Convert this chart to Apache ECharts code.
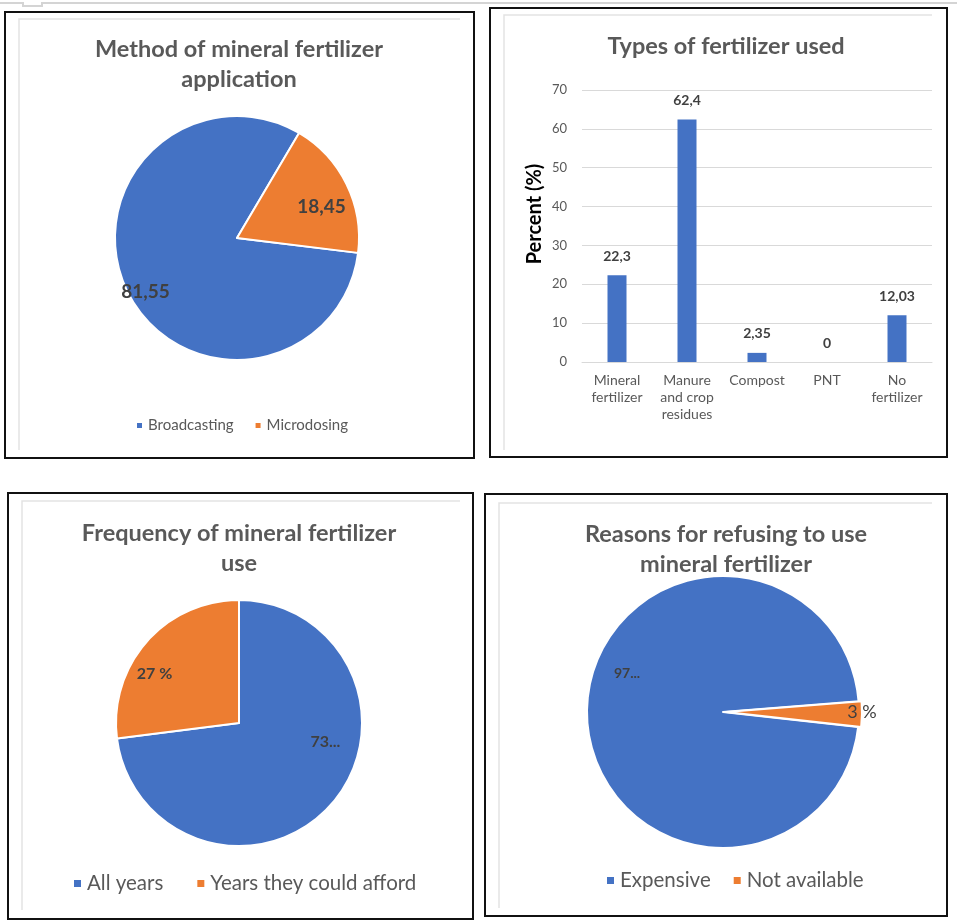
<!DOCTYPE html>
<html>
<head>
<meta charset="utf-8">
<title>Mineral fertilizer survey</title>
<script src="https://cdn.jsdelivr.net/npm/echarts@6/dist/echarts.min.js"></script>
<style>
    html, body { margin: 0; padding: 0; background: #fff; }
    #main { width: 957px; height: 924px; }
</style>
</head>
<body>
<div id="main"></div>
<script>
// method of mineral fertilizer application
var methodNames = ['Broadcasting', 'Microdosing'];
var methodValues = [81.55, 18.45];
var methodLabels = ['81,55', '18,45'];

// types of fertilizer used
var typeCategories = ['Mineral\nfertilizer', 'Manure\nand crop\nresidues', 'Compost', 'PNT', 'No\nfertilizer'];
var typeValues = [22.3, 62.4, 2.35, 0, 12.03];
var percentMin = 0;
var percentMax = 70;
var percentStep = 10;

// frequency of mineral fertilizer use
var freqNames = ['All years', 'Years they could afford'];
var freqValues = [73, 27];
var freqLabels = ['73...', '27 %'];

// reasons for refusing
var reasonNames = ['Expensive', 'Not available'];
var reasonValues = [97, 3];
var reasonLabels = ['97...', '3 %'];

var FONT = 'Lato, "Open Sans", sans-serif';
var colors = ['#4472C4', '#ED7D31'];
var titleColor = '#595959';
var labelColor = '#404040';

function comma(v) {
    return String(v).replace('.', ',');
}

// pie with inside labels, nudged a little like Excel's "best fit"
function pieSeries(names, values, labels, opt) {
    return {
        type: 'pie',
        center: opt.center,
        radius: opt.radius,
        startAngle: opt.startAngle,
        clockwise: true,
        silent: true,
        selectedMode: opt.explode != null ? 'single' : false,
        selectedOffset: opt.offset || 0,
        itemStyle: { borderColor: '#fff', borderWidth: 2 },
        label: {
            show: true,
            position: 'inside',
            color: labelColor,
            fontFamily: FONT,
            fontWeight: 'bold',
            fontSize: opt.fontSize,
            formatter: function (p) { return labels[p.dataIndex]; }
        },
        labelLine: { show: false },
        labelLayout: function (p) {
            var o = opt.nudge[p.dataIndex];
            return { dx: o[0], dy: o[1] };
        },
        emphasis: { disabled: true },
        data: names.map(function (n, i) {
            var item = { name: n, value: values[i], itemStyle: { color: colors[i] } };
            if (opt.explode === i) item.selected = true;
            if (opt.labelStyles && opt.labelStyles[i]) item.label = opt.labelStyles[i];
            return item;
        })
    };
}

function legendOf(names, left, top, size, fontSize, gap) {
    return {
        data: names,
        left: left,
        top: top,
        orient: 'horizontal',
        icon: 'rect',
        itemWidth: size,
        itemHeight: size,
        itemGap: gap,
        padding: 0,
        selectedMode: false,
        textStyle: { fontFamily: FONT, fontSize: fontSize, color: titleColor }
    };
}

function titleOf(text, x, y) {
    return {
        text: text,
        left: x,
        top: y,
        textAlign: 'center',
        padding: 0,
        textStyle: { fontFamily: FONT, fontSize: 23.5, fontWeight: 'bold', color: titleColor, lineHeight: 30 }
    };
}

function frame(x, y, w, h) {
    return { type: 'rect', silent: true, shape: { x: x, y: y, width: w, height: h },
             style: { fill: null, stroke: '#111', lineWidth: 2 } };
}

function innerEdge(x, y, x2, y2) {
    return { type: 'polyline', silent: true, shape: { points: [[x, y2], [x, y], [x2, y]] },
             style: { fill: null, stroke: '#e3e3e3', lineWidth: 1.5 } };
}

var graphics = [
    frame(5, 12, 469, 446),
    frame(490, 8, 457, 449),
    frame(8, 493, 465, 426),
    frame(485, 494, 462, 422),
    innerEdge(19, 19, 460, 450),
    innerEdge(504, 15, 932, 450),
    innerEdge(22, 501, 460, 910),
    innerEdge(499, 503, 932, 908),
    { type: 'polyline', silent: true, shape: { points: [[0, 3], [23, 3], [23, 6], [42, 6], [42, 3], [957, 3]] },
      style: { fill: null, stroke: '#d4d4d4', lineWidth: 2 } }
];

var chart = echarts.init(document.getElementById('main'));
var option = {
    animation: false,
    backgroundColor: '#fff',
    title: [
        titleOf('Method of mineral fertilizer\napplication', 239, 34),
        titleOf('Types of fertilizer used', 726, 31),
        titleOf('Frequency of mineral fertilizer\nuse', 239, 518),
        titleOf('Reasons for refusing to use\nmineral fertilizer', 726, 519)
    ],
    legend: [
        legendOf(methodNames, 135, 418, 7, 15, 20),
        legendOf(freqNames, 72, 873, 9, 20.5, 32),
        legendOf(reasonNames, 605, 870, 9, 20.5, 21)
    ],
    grid: { left: 582, top: 90, width: 350, height: 272 },
    xAxis: {
        type: 'category',
        data: typeCategories,
        axisLine: { show: true, lineStyle: { color: '#d9d9d9', width: 1 } },
        axisTick: { show: false },
        axisLabel: { interval: 0, margin: 10, color: titleColor, fontFamily: FONT, fontSize: 14, lineHeight: 17 }
    },
    yAxis: {
        type: 'value',
        min: percentMin,
        max: percentMax,
        interval: percentStep,
        axisLine: { show: false },
        axisTick: { show: false },
        axisLabel: { margin: 15, color: titleColor, fontFamily: FONT, fontSize: 13 },
        splitLine: { lineStyle: { color: '#d9d9d9', width: 1 } },
        name: 'Percent (%)',
        nameLocation: 'middle',
        nameRotate: 90,
        nameGap: 37,
        nameTextStyle: { fontFamily: FONT, fontWeight: 'bold', fontSize: 20, color: '#000', padding: [0, 0, 0, 24] }
    },
    series: [
        pieSeries(methodNames, methodValues, methodLabels, {
            center: [237, 238], radius: [0, 122], startAngle: -7, fontSize: 19,
            nudge: [[-34, 26], [27, -3]]
        }),
        {
            type: 'bar',
            data: typeValues,
            barWidth: 19,
            silent: true,
            itemStyle: { color: colors[0] },
            label: {
                show: true,
                position: 'top',
                distance: 12,
                color: labelColor,
                fontFamily: FONT,
                fontWeight: 'bold',
                fontSize: 14,
                formatter: function (p) { return comma(p.value); }
            }
        },
        pieSeries(freqNames, freqValues, freqLabels, {
            center: [239, 723], radius: [0, 123], startAngle: 90, fontSize: 16,
            nudge: [[38, -24], [-36, -7]]
        }),
        pieSeries(reasonNames, reasonValues, reasonLabels, {
            center: [723, 712], radius: [0, 136], startAngle: -6.3, fontSize: 14,
            explode: 1, offset: 3,
            nudge: [[-25, -37], [65, -1]],
            labelStyles: [null, { fontSize: 18, fontWeight: 'normal' }]
        })
    ],
    graphic: graphics
};
chart.setOption(option);
</script>
</body>
</html>
